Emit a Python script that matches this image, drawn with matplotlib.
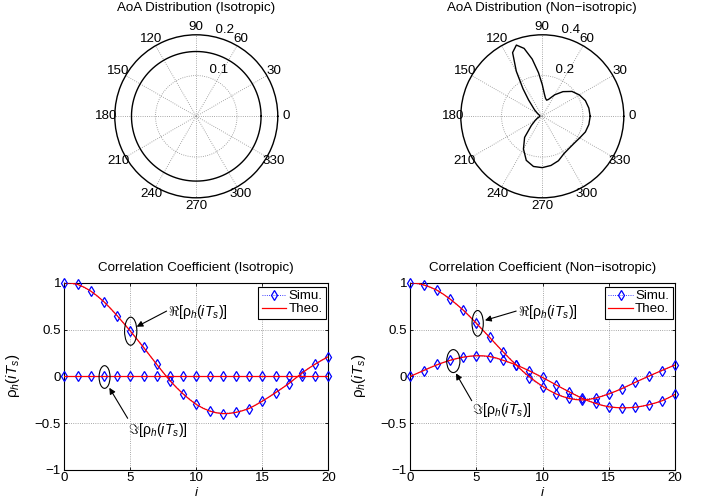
import numpy as np
import matplotlib
matplotlib.use("Agg")
import matplotlib.pyplot as plt
from matplotlib.patches import Ellipse

plt.rcParams['font.family'] = ['Liberation Sans', 'DejaVu Sans']
plt.rcParams['font.size'] = 9.6
plt.rcParams['mathtext.fontset'] = 'custom'
plt.rcParams['mathtext.rm'] = 'Liberation Sans'
plt.rcParams['mathtext.it'] = 'Liberation Sans:italic'
plt.rcParams['mathtext.bf'] = 'Liberation Sans:bold'

# ── AoA distributions ─────────────────────────────────────────────────────
theta_ticks = [0, 30, 60, 90, 120, 150, 180, 210, 240, 270, 300, 330]
iso_level = 0.159  # flat pdf

aoa_deg = [0, 10, 20, 30, 40, 50, 60, 70, 75, 80, 85, 90, 95, 100, 105, 110,
           115, 120, 125, 130, 140, 150, 160, 170, 180, 190, 200, 210, 220,
           230, 240, 250, 260, 270, 280, 290, 300, 310, 320, 330, 340, 350, 360]
aoa_pdf = [0.235, 0.232, 0.225, 0.210, 0.190, 0.158, 0.122, 0.088, 0.082,
           0.090, 0.112, 0.155, 0.215, 0.285, 0.345, 0.372, 0.345, 0.255,
           0.165, 0.105, 0.050, 0.026, 0.015, 0.012, 0.012, 0.015, 0.025,
           0.040, 0.070, 0.135, 0.185, 0.230, 0.250, 0.252, 0.245, 0.232,
           0.212, 0.205, 0.205, 0.212, 0.225, 0.232, 0.235]

# ── Correlation coefficients ──────────────────────────────────────────────
lag = list(range(21))
lag_fine = np.arange(0, 20.5, 0.5)

iso_re_simu = [1.0, 0.982, 0.911, 0.797, 0.648, 0.484, 0.310, 0.128, -0.048,
               -0.186, -0.300, -0.369, -0.398, -0.384, -0.344, -0.264,
               -0.175, -0.077, 0.036, 0.130, 0.209]
iso_im_simu = [0.0] * 21
iso_re_theo = [1.000, 0.996, 0.982, 0.952, 0.911, 0.858, 0.797, 0.726, 0.648,
               0.567, 0.484, 0.398, 0.310, 0.219, 0.128, 0.040, -0.045,
               -0.120, -0.188, -0.248, -0.300, -0.340, -0.370, -0.389,
               -0.398, -0.396, -0.385, -0.367, -0.343, -0.306, -0.265,
               -0.221, -0.175, -0.127, -0.078, -0.022, 0.035, 0.085, 0.130,
               0.172, 0.210]
iso_im_theo = [0.0] * 41

non_re_simu = [1.0, 0.975, 0.922, 0.826, 0.708, 0.566, 0.416, 0.263, 0.125,
               -0.021, -0.112, -0.191, -0.235, -0.249, -0.228, -0.189,
               -0.132, -0.064, 0.0, 0.060, 0.121]
non_im_simu = [0.0, 0.060, 0.128, 0.171, 0.207, 0.221, 0.210, 0.170, 0.125,
               0.060, -0.012, -0.090, -0.164, -0.235, -0.288, -0.327,
               -0.335, -0.331, -0.306, -0.263, -0.193]
non_re_theo = [1.000, 0.994, 0.977, 0.953, 0.921, 0.877, 0.826, 0.769, 0.707,
               0.638, 0.565, 0.491, 0.415, 0.339, 0.263, 0.190, 0.120, 0.055,
               -0.005, -0.058, -0.107, -0.150, -0.187, -0.215, -0.236,
               -0.248, -0.252, -0.246, -0.232, -0.212, -0.187, -0.160,
               -0.130, -0.097, -0.064, -0.031, 0.001, 0.032, 0.062, 0.092,
               0.121]
non_im_theo = [0.000, 0.031, 0.062, 0.093, 0.122, 0.148, 0.171, 0.190, 0.205,
               0.215, 0.220, 0.219, 0.212, 0.196, 0.172, 0.148, 0.122, 0.091,
               0.058, 0.023, -0.013, -0.051, -0.090, -0.128, -0.165, -0.201,
               -0.236, -0.265, -0.289, -0.310, -0.325, -0.333, -0.336,
               -0.335, -0.330, -0.319, -0.304, -0.285, -0.262, -0.230,
               -0.193]

y_ticks = [-1, -0.5, 0, 0.5, 1]
y_ticklabels = ['\u22121', '\u22120.5', '0', '0.5', '1']
x_ticks = [0, 5, 10, 15, 20]

re_label = r'$\Re[\mathrm{\rho}_h(iT_s)]$'
im_label = r'$\Im[\mathrm{\rho}_h(iT_s)]$'
ylab = r'$\mathrm{\rho}_h(iT_s)$'

GRID = dict(color='0.55', ls=':', lw=0.6)


def setup_polar(ax, rmax, rings):
    ax.set_ylim(0, rmax)
    ax.set_yticks(rings)
    ax.set_yticklabels([])
    ax.set_xticks(np.deg2rad(theta_ticks))
    ax.set_xticklabels([])
    ax.tick_params(length=0)
    ax.grid(True, **GRID)
    ax.spines['polar'].set_linewidth(1.0)
    for t in theta_ticks:
        ax.text(np.deg2rad(t), 1.1 * rmax, str(t), ha='center', va='center')
    for r in rings + [rmax]:
        ax.text(np.deg2rad(82), r, '  %g' % r, ha='left', va='bottom')


def setup_corr(ax, title):
    ax.set_xlim(0, 20)
    ax.set_ylim(-1, 1)
    ax.set_xticks(x_ticks)
    ax.set_yticks(y_ticks)
    ax.set_yticklabels(y_ticklabels)
    ax.grid(True, **GRID)
    ax.tick_params(direction='in', length=2.5, width=0.6, top=True, right=True)
    ax.tick_params(axis='x', pad=1.5)
    ax.tick_params(axis='y', pad=2.4)
    for s in ax.spines.values():
        s.set_linewidth(0.8)
    ax.text(0.5, 1.077, title, transform=ax.transAxes, ha='center', va='center')
    ax.text(-0.194, 0.5, ylab, transform=ax.transAxes, rotation=90,
            ha='center', va='center', fontsize=10.8)
    ax.text(0.5, -0.123, 'i', transform=ax.transAxes, style='italic',
            ha='center', va='center')


def plot_corr(ax, re_s, im_s, re_t, im_t):
    mk = dict(color='b', ls=':', lw=0.6, marker='d', mfc='none', ms=4.8,
              mew=0.9, clip_on=False, zorder=3)
    ax.plot(lag, re_s, label='Simu.', **mk)
    ax.plot(lag, im_s, **mk)
    ax.plot(lag_fine, re_t, 'r-', lw=0.9, label='Theo.', zorder=4)
    ax.plot(lag_fine, im_t, 'r-', lw=0.9, zorder=4)
    leg = ax.legend(loc='upper right', bbox_to_anchor=(1 - 2.3 / 264, 1 - 4 / 187.3),
                    borderaxespad=0, fancybox=False, framealpha=1, edgecolor='k',
                    borderpad=0.25, handlelength=1.85, handletextpad=0.15,
                    labelspacing=0.05)
    leg.get_frame().set_linewidth(0.8)
    leg.set_zorder(10)


def mark(ax, center, w, h, tail, head, text, text_xy):
    ax.add_patch(Ellipse(center, w, h, fill=False, ec='k', lw=0.8, zorder=5))
    ax.annotate('', xy=head, xytext=tail,
                arrowprops=dict(arrowstyle='-|>', color='k', lw=0.8,
                                mutation_scale=9, shrinkA=0, shrinkB=0),
                zorder=5)
    ax.text(text_xy[0], text_xy[1], text, ha='left', va='center', zorder=5,
            fontsize=10.2)


fig = plt.figure(figsize=(7.02, 5.00), dpi=100)

# ── top row: polar AoA plots ──────────────────────────────────────────────
ax1 = fig.add_axes([0.1635, 0.6044, 0.2322, 0.326], projection='polar')
th = np.linspace(0, 2 * np.pi, 361)
ax1.plot(th, np.full_like(th, iso_level), 'k-', lw=1.0)
setup_polar(ax1, 0.2, [0.1])
fig.text(196.3 / 702, 1 - 8 / 500, 'AoA Distribution (Isotropic)',
         ha='center', va='center')

ax2 = fig.add_axes([0.6564, 0.6044, 0.2322, 0.326], projection='polar')
ax2.plot(np.deg2rad(aoa_deg), aoa_pdf, 'k-', lw=1.0)
setup_polar(ax2, 0.4, [0.2])
fig.text(542.3 / 702, 1 - 8 / 500, 'AoA Distribution (Non\u2212isotropic)',
         ha='center', va='center')

# ── bottom row: correlation coefficients ──────────────────────────────────
ax3 = fig.add_axes([64.3 / 702, 0.06, 264 / 702, 187.3 / 500])
plot_corr(ax3, iso_re_simu, iso_im_simu, iso_re_theo, iso_im_theo)
setup_corr(ax3, 'Correlation Coefficient (Isotropic)')
mark(ax3, (5.03, 0.482), 0.93, 0.30, (7.75, 0.697), (5.48, 0.530),
     re_label, (7.86, 0.69))
mark(ax3, (3.05, -0.007), 0.83, 0.242, (4.80, -0.448), (3.41, -0.122),
     im_label, (4.85, -0.574))

ax4 = fig.add_axes([410.3 / 702, 0.06, 264.7 / 702, 187.3 / 500])
plot_corr(ax4, non_re_simu, non_im_simu, non_re_theo, non_im_theo)
setup_corr(ax4, 'Correlation Coefficient (Non\u2212isotropic)')
mark(ax4, (5.09, 0.566), 0.85, 0.274, (8.0, 0.697), (5.64, 0.598),
     re_label, (8.12, 0.69))
mark(ax4, (3.25, 0.163), 1.0, 0.245, (4.64, -0.26), (3.45, 0.032),
     im_label, (4.64, -0.36))

fig.savefig('out.png', dpi=100)
